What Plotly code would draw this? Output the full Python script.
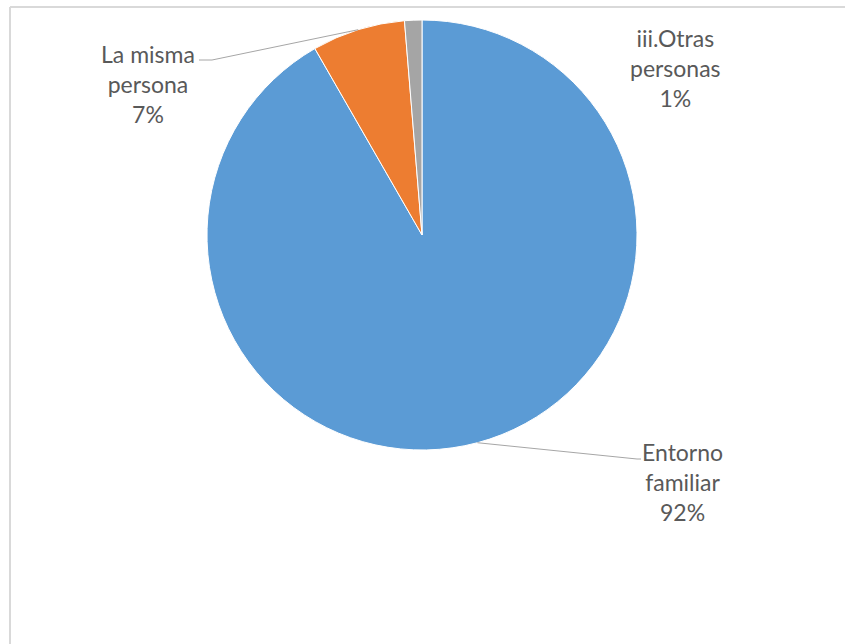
import math
import plotly.graph_objects as go

# ---- data ----
labels = ["Entorno familiar", "La misma persona", "iii.Otras personas"]
label_lines = [["Entorno", "familiar"], ["La misma", "persona"], ["iii.Otras", "personas"]]
values = [91.7, 7.0, 1.3]
colors = ["#5B9BD5", "#ED7D31", "#A5A5A5"]

# ---- layout constants (pixels) ----
W, H = 845, 644
CX, CY, R = 422, 235, 215

def px(x):
    return x / W

def py(y):
    return 1 - y / H

fig = go.Figure()
fig.add_trace(go.Pie(
    labels=labels, values=values, sort=False, direction="clockwise", rotation=0,
    marker=dict(colors=colors, line=dict(color="white", width=1)),
    textinfo="none", hoverinfo="label+percent",
    domain=dict(x=[px(CX - R), px(CX + R)], y=[py(CY + R), py(CY - R)]),
    showlegend=False,
))

total = sum(values)
pcts = [round(v / total * 100) for v in values]

# mid angle of each slice (deg clockwise from 12 o'clock)
mids = []
cum = 0
for v in values:
    mids.append((cum + v / 2) / total * 360)
    cum += v

def edge(i):
    a = math.radians(mids[i])
    return CX + R * math.sin(a), CY - R * math.cos(a)

# label placement (pixels): center x, center y of text block
label_pos = {0: (682, 482), 1: (148, 84), 2: (675, 68)}
# leader line elbow points (pixels)
leaders = {0: [(637, 459), (641, 459)], 1: [(212, 60), (199, 60)]}

annotations = []
for i, lines in enumerate(label_lines):
    text = "<br>".join(lines) + f"<br>{pcts[i]}%"
    x, y = label_pos[i]
    annotations.append(dict(
        x=px(x), y=py(y), xref="paper", yref="paper", text=text, showarrow=False,
        xanchor="center", yanchor="middle", align="center",
        font=dict(family="Lato", size=23, color="#595959"),
    ))

shapes = []
for i, pts in leaders.items():
    seq = [edge(i)] + pts
    for (x0, y0), (x1, y1) in zip(seq[:-1], seq[1:]):
        shapes.append(dict(type="line", xref="paper", yref="paper",
                           x0=px(x0), y0=py(y0), x1=px(x1), y1=py(y1),
                           line=dict(color="#A6A6A6", width=1)))

# chart frame (top and left edges visible)
FRAME = "#D9D9D9"
shapes.append(dict(type="line", xref="paper", yref="paper",
                   x0=px(10), y0=py(7), x1=1.05, y1=py(7),
                   line=dict(color=FRAME, width=2)))
shapes.append(dict(type="line", xref="paper", yref="paper",
                   x0=px(10), y0=py(7), x1=px(10), y1=-0.05,
                   line=dict(color=FRAME, width=2)))

fig.update_layout(
    width=W, height=H, margin=dict(l=0, r=0, t=0, b=0),
    paper_bgcolor="white", plot_bgcolor="white",
    annotations=annotations, shapes=shapes,
)

fig.write_html("out.html", config={"displayModeBar": False},
               post_script="document.body.style.margin='0';document.body.style.overflow='hidden';")
